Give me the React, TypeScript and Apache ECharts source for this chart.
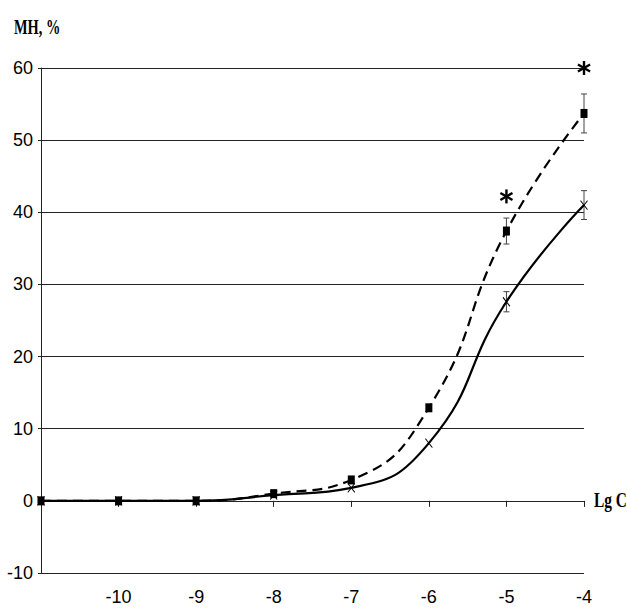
import React, { useEffect, useRef } from "react";
import * as echarts from "echarts";

const xValues = [-11, -10, -9, -8, -7, -6, -5, -4];
const seriesDashed = [0, 0, 0, 1, 2.9, 12.9, 37.4, 53.7];
const seriesSolid = [0, 0, 0, 0.8, 1.8, 8.0, 27.6, 41.0];
const errDashed = [0, 0, 0, 0, 0, 0, 1.8, 2.7];
const errSolid = [0, 0, 0, 0, 0, 0, 1.4, 2.0];
const starPoints: [number, number][] = [
  [-5, 42.2],
  [-4, 60],
];
const yTicks = { min: -10, max: 60, interval: 10 };
const xTicks = { min: -11, max: -4, interval: 1 };

const labelFont = "'Liberation Sans Narrow', 'Arial Narrow', 'Liberation Sans', Arial, sans-serif";
const serifFont = "'Liberation Serif', 'Times New Roman', serif";

export default function App() {
  const ref = useRef<HTMLDivElement>(null);
  useEffect(() => {
    if (!ref.current) return;
    const chart = echarts.init(ref.current, undefined, { renderer: "svg" });

    const dashedData = xValues.map((x, i) => [x, seriesDashed[i]]);
    const solidData = xValues.map((x, i) => [x, seriesSolid[i]]);
    const errData: number[][] = [];
    xValues.forEach((x, i) => {
      if (errDashed[i] > 0) errData.push([x, seriesDashed[i] - errDashed[i], seriesDashed[i] + errDashed[i]]);
      if (errSolid[i] > 0) errData.push([x, seriesSolid[i] - errSolid[i], seriesSolid[i] + errSolid[i]]);
    });

    chart.setOption({
      animation: false,
      backgroundColor: "#fff",
      grid: { left: 41, right: 43, top: 68, bottom: 42, containLabel: false },
      xAxis: [
        {
          type: "value",
          min: xTicks.min,
          max: xTicks.max,
          interval: xTicks.interval,
          axisLine: { show: true, onZero: true, lineStyle: { color: "#222", width: 1 } },
          axisTick: { show: true, length: 6, lineStyle: { color: "#222" } },
          axisLabel: { show: false },
          splitLine: { show: false },
        },
        {
          type: "value",
          position: "bottom",
          min: xTicks.min,
          max: xTicks.max,
          interval: xTicks.interval,
          axisLine: { show: false, onZero: false },
          axisTick: { show: false },
          splitLine: { show: false },
          axisLabel: {
            show: true,
            margin: 15,
            color: "#000",
            fontSize: 18,
            fontFamily: labelFont,
            formatter: (v: number) => (v === xTicks.min ? "" : String(v)),
          },
        },
      ],
      yAxis: {
        type: "value",
        min: yTicks.min,
        max: yTicks.max,
        interval: yTicks.interval,
        axisLine: { show: true, onZero: false, lineStyle: { color: "#222", width: 1 } },
        axisTick: { show: true, length: 3, lineStyle: { color: "#222" } },
        axisLabel: { color: "#000", fontSize: 18, fontFamily: labelFont, margin: 8 },
        splitLine: { show: true, lineStyle: { color: "#222", width: 1 } },
      },
      series: [
        {
          type: "custom",
          xAxisIndex: 0,
          data: errData,
          z: 1,
          renderItem: (params: any, api: any) => {
            const x = api.value(0);
            const lo = api.coord([x, api.value(1)]);
            const hi = api.coord([x, api.value(2)]);
            const w = 3;
            const style = { stroke: "#444", lineWidth: 1 };
            return {
              type: "group",
              children: [
                { type: "line", shape: { x1: lo[0], y1: lo[1], x2: hi[0], y2: hi[1] }, style },
                { type: "line", shape: { x1: lo[0] - w, y1: lo[1], x2: lo[0] + w, y2: lo[1] }, style },
                { type: "line", shape: { x1: hi[0] - w, y1: hi[1], x2: hi[0] + w, y2: hi[1] }, style },
              ],
            };
          },
        },
        {
          type: "line",
          xAxisIndex: 0,
          data: solidData,
          smooth: 0.5,
          symbol: "path://M0,0L10,12M10,0L0,12",
          symbolSize: [7, 9],
          itemStyle: { color: "none", borderColor: "#000", borderWidth: 1 },
          lineStyle: { color: "#000", width: 2.2, type: "solid" },
          z: 3,
        },
        {
          type: "line",
          xAxisIndex: 0,
          data: dashedData,
          smooth: 0.5,
          symbol: "rect",
          symbolSize: [7, 9],
          itemStyle: { color: "#000" },
          lineStyle: { color: "#000", width: 2.2, type: [10, 6] },
          z: 4,
        },
        {
          type: "custom",
          xAxisIndex: 0,
          data: starPoints,
          z: 5,
          renderItem: (params: any, api: any) => {
            const c = api.coord([api.value(0), api.value(1)]);
            const r = 7;
            const dx = r * Math.cos(Math.PI / 6);
            const dy = r * Math.sin(Math.PI / 6);
            const style = { stroke: "#000", lineWidth: 2.4 };
            return {
              type: "group",
              children: [
                { type: "line", shape: { x1: c[0], y1: c[1] - r, x2: c[0], y2: c[1] + r }, style },
                { type: "line", shape: { x1: c[0] - dx, y1: c[1] - dy, x2: c[0] + dx, y2: c[1] + dy }, style },
                { type: "line", shape: { x1: c[0] - dx, y1: c[1] + dy, x2: c[0] + dx, y2: c[1] - dy }, style },
              ],
            };
          },
        },
      ],
      graphic: [
        {
          type: "text",
          x: 14,
          y: 17,
          scaleX: 0.72,
          style: {
            text: "MH, %",
            fontFamily: serifFont,
            fontWeight: "bold",
            fontSize: 20,
            fill: "#000",
          },
        },
        {
          type: "text",
          x: 594,
          y: 488,
          scaleX: 0.7,
          style: {
            text: "Lg C",
            fontFamily: serifFont,
            fontWeight: "bold",
            fontSize: 22,
            fill: "#000",
          },
        },
      ],
    });
    return () => chart.dispose();
  }, []);
  return (
    <div
      ref={ref}
      style={{ position: "absolute", left: 0, top: 0, width: 627, height: 615, overflow: "hidden" }}
    />
  );
}
